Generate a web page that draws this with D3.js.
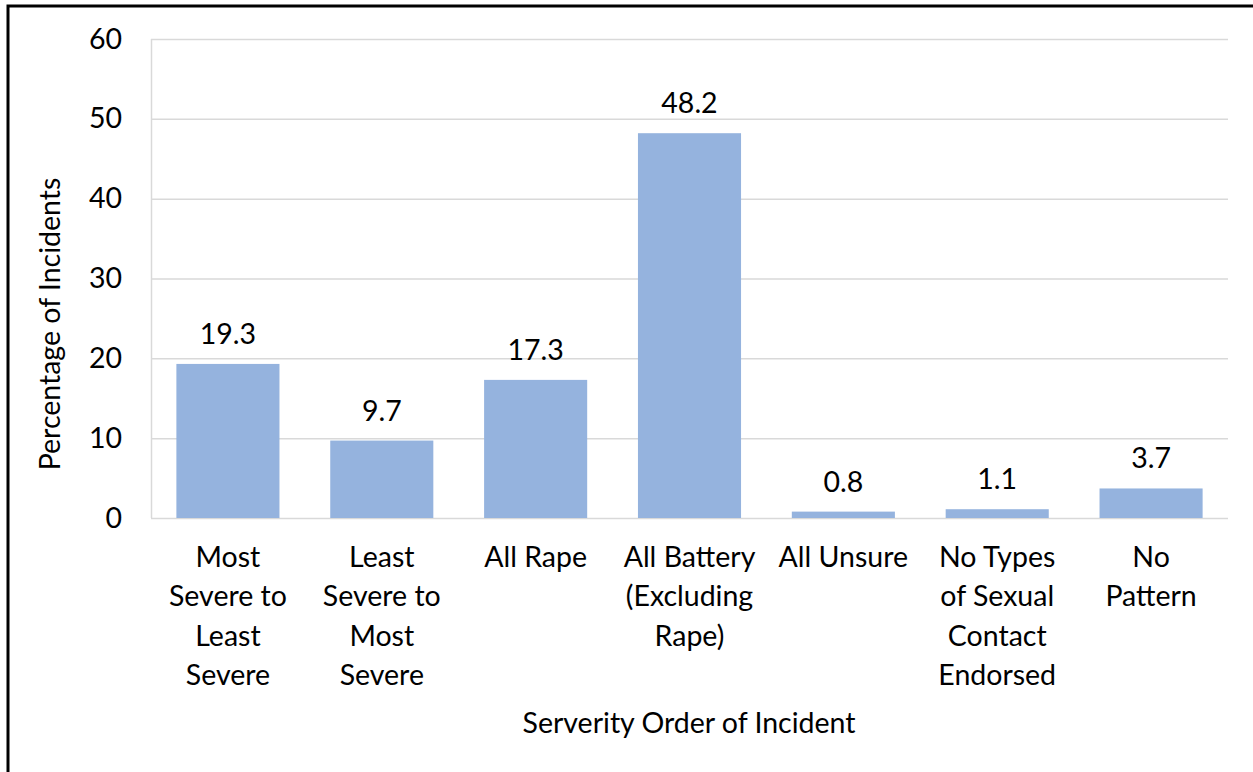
<!DOCTYPE html>
<html>
<head>
<meta charset="utf-8">
<script src="https://cdn.jsdelivr.net/npm/d3@7"></script>
<style>
  body { margin: 0; background: #fff; }
  text { font-family: Lato, "Open Sans", sans-serif; fill: #000; }
</style>
</head>
<body>
<svg id="chart" width="1253" height="772"></svg>
<script>
let categories = [
    ['Most', 'Severe to', 'Least', 'Severe'],
    ['Least', 'Severe to', 'Most', 'Severe'],
    ['All Rape'],
    ['All Battery', '(Excluding', 'Rape)'],
    ['All Unsure'],
    ['No Types', 'of Sexual', 'Contact', 'Endorsed'],
    ['No', 'Pattern']
]
let values = [19.3, 9.7, 17.3, 48.2, 0.8, 1.1, 3.7]
let yTicks = [0, 10, 20, 30, 40, 50, 60]

function main() {
    let svg = d3.select('#chart'),
        margin = {top: 39, bottom: 254, left: 151, right: 25},
        width = svg.attr('width') - margin.left - margin.right,
        height = svg.attr('height') - margin.top - margin.bottom,
        fs = 28.5

    let keys = d3.range(values.length)
    let xScale = d3.scaleBand().range([margin.left, margin.left + width]).domain(keys).paddingInner(0.33).paddingOuter(0.165),
        yScale = d3.scaleLinear().range([margin.top + height, margin.top]).domain([0, 60])

    // frame (left and top edges only, as in the screenshot)
    svg.append('path')
        .attr('d', 'M8,772 V6 H1253')
        .attr('fill', 'none')
        .attr('stroke', '#000')
        .attr('stroke-width', 3)

    // gridlines
    svg.append('g')
        .selectAll('line')
        .data(yTicks)
        .enter()
        .append('line')
        .attr('x1', margin.left)
        .attr('x2', margin.left + width)
        .attr('y1', d => yScale(d) + 0.5)
        .attr('y2', d => yScale(d) + 0.5)
        .attr('stroke', '#d9d9d9')
        .attr('stroke-width', 1.5)

    svg.append('line')
        .attr('x1', margin.left + 0.5)
        .attr('x2', margin.left + 0.5)
        .attr('y1', margin.top)
        .attr('y2', margin.top + height)
        .attr('stroke', '#d9d9d9')
        .attr('stroke-width', 1.5)

    // y tick labels
    let yAxis = svg.append('g')
        .attr('transform', 'translate(' + margin.left + ', 0)')
        .call(d3.axisLeft(yScale).tickValues(yTicks).tickSize(0).tickPadding(29))
    yAxis.select('.domain').remove()
    yAxis.selectAll('text').attr('font-size', fs).style('font-family', 'Lato, sans-serif')

    // bars
    svg.selectAll('rect.bar')
        .data(values)
        .enter()
        .append('rect')
        .attr('class', 'bar')
        .attr('x', (d, i) => xScale(i))
        .attr('y', d => yScale(d))
        .attr('width', xScale.bandwidth())
        .attr('height', d => yScale(0) - yScale(d))
        .attr('fill', '#95b3de')

    // value labels
    svg.selectAll('text.value')
        .data(values)
        .enter()
        .append('text')
        .attr('class', 'value')
        .attr('text-anchor', 'middle')
        .attr('font-size', fs)
        .attr('x', (d, i) => xScale(i) + xScale.bandwidth() / 2)
        .attr('y', d => yScale(d) - 20)
        .text(d => d.toFixed(1))

    // category labels
    let cat = svg.selectAll('text.cat')
        .data(categories)
        .enter()
        .append('text')
        .attr('class', 'cat')
        .attr('text-anchor', 'middle')
        .attr('font-size', fs)
        .attr('x', (d, i) => xScale(i) + xScale.bandwidth() / 2)
        .attr('y', margin.top + height + 49)
    cat.selectAll('tspan')
        .data((d, i) => d.map(t => ({t: t, i: i})))
        .enter()
        .append('tspan')
        .attr('x', d => xScale(d.i) + xScale.bandwidth() / 2)
        .attr('dy', (d, j) => j === 0 ? 0 : 39.3)
        .text(d => d.t)

    // axis titles
    svg.append('text')
        .attr('text-anchor', 'middle')
        .attr('font-size', fs)
        .attr('x', 689)
        .attr('y', 733)
        .text('Serverity Order of Incident')

    svg.append('text')
        .attr('text-anchor', 'middle')
        .attr('font-size', fs)
        .attr('transform', 'translate(60, 324) rotate(-90)')
        .text('Percentage of Incidents')
}

main()
</script>
</body>
</html>
